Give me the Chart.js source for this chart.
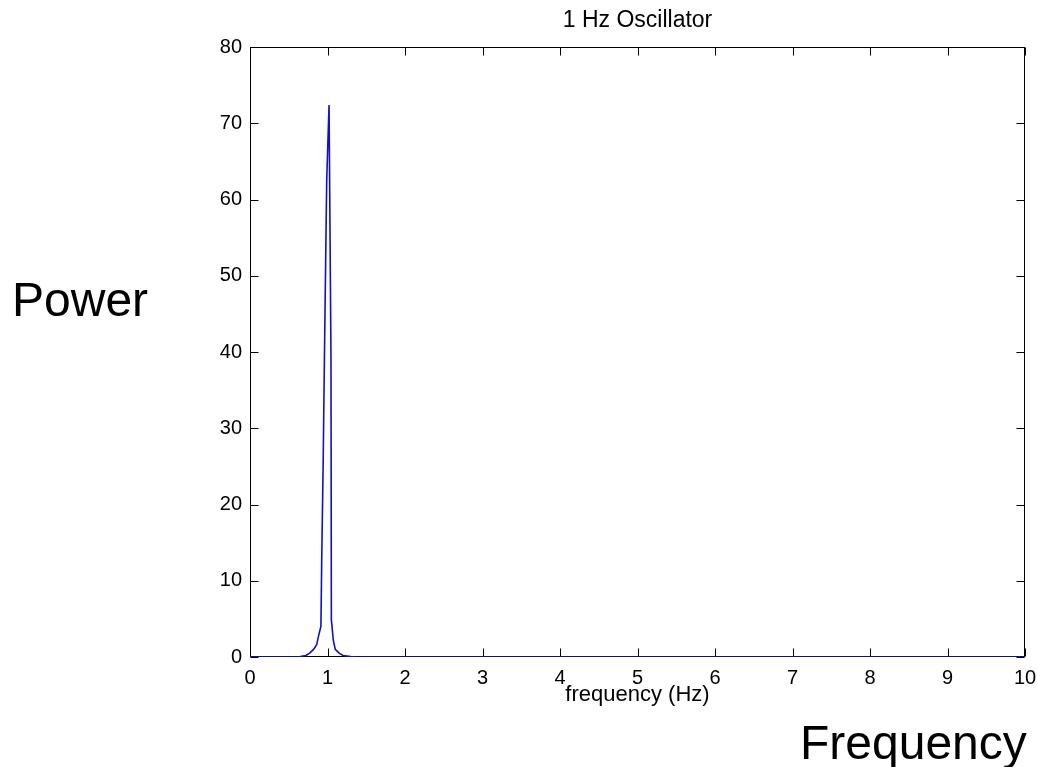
<!DOCTYPE html>
<html><head><meta charset="utf-8">
<script src="https://cdn.jsdelivr.net/npm/chart.js@4/dist/chart.umd.min.js"></script>
<style>
html,body{margin:0;padding:0;background:#fff;}
#wrap{position:relative;width:1037px;height:767px;overflow:hidden;}
canvas{position:absolute;left:0;top:0;}
.lbl{position:absolute;font-family:"Liberation Sans",Arial,sans-serif;font-size:48px;color:#000;line-height:1;white-space:nowrap;}
</style></head><body>
<div id="wrap"><canvas id="c" width="1037" height="767"></canvas>
<div class="lbl" style="left:12px;top:276px">Power</div>
<div class="lbl" style="left:800px;top:719px">Frequency</div>
</div>
<script>
// Data
const chartTitle = "1 Hz Oscillator";
const xAxisTitle = "frequency (Hz)";
const frequency = [0, 0.60, 0.65, 0.72, 0.77, 0.82, 0.86, 0.89, 0.915, 0.925, 0.945, 0.965, 0.99, 1.02, 1.045, 1.05, 1.075, 1.10, 1.15, 1.20, 1.30, 1.40, 10];
const power     = [0, 0,    0.05, 0.2,  0.5,  1.0,  1.6,  3.0,  4.0,   12.3,  26.2,  43.1,  62.6, 72.4, 39.0,  4.9,  2.2,   1.0,  0.5,  0.2,  0.05, 0,    0];
const xTicks = [0,1,2,3,4,5,6,7,8,9,10];
const yTicks = [0,10,20,30,40,50,60,70,80];

const points = frequency.map((f,i)=>({x:f, y:power[i]}));
const FONT = '"Liberation Sans", Arial, sans-serif';

const boxPlugin = {
  id:'box',
  beforeDatasetsDraw(chart){
    const {ctx, chartArea:a, scales:{x,y}} = chart;
    const L = Math.round(a.left)+0.5, R = Math.round(a.right)-0.5, T = Math.round(a.top)+0.5, B = Math.round(a.bottom)-0.5;
    ctx.save();
    ctx.strokeStyle = '#000'; ctx.lineWidth = 1;
    ctx.strokeRect(L, T, R-L, B-T);
    const len = 8;
    ctx.beginPath();
    xTicks.forEach(v=>{
      const px = Math.round(x.getPixelForValue(v))+0.5;
      ctx.moveTo(px,B); ctx.lineTo(px,B-len);
      ctx.moveTo(px,T); ctx.lineTo(px,T+len);
    });
    yTicks.forEach(v=>{
      const py = Math.round(y.getPixelForValue(v))+0.5;
      ctx.moveTo(L,py); ctx.lineTo(L+len,py);
      ctx.moveTo(R,py); ctx.lineTo(R-len,py);
    });
    ctx.stroke();
    // title centred over the plot box
    ctx.fillStyle = '#000';
    ctx.font = '23px ' + FONT;
    ctx.textAlign = 'center';
    ctx.textBaseline = 'middle';
    ctx.fillText(chartTitle, (a.left + a.right)/2, 21);
    ctx.restore();
  }
};

new Chart(document.getElementById('c'), {
  type:'line',
  data:{datasets:[{data:points, borderColor:'#1010c8', borderWidth:1.6, pointRadius:0, tension:0, fill:false}]},
  options:{
    responsive:false, animation:false, devicePixelRatio:1,
    layout:{padding:{left:0,right:12,top:47,bottom:0}},
    plugins:{ legend:{display:false}, tooltip:{enabled:false}, title:{display:false} },
    scales:{
      x:{type:'linear', min:0, max:10,
        afterBuildTicks(s){ s.ticks = xTicks.map(v=>({value:v})); },
        afterFit(s){ s.height = 110; s.paddingLeft = 0; s.paddingRight = 0; },
        grid:{display:false, drawTicks:false}, border:{display:false},
        ticks:{color:'#000', font:{family:FONT,size:20}, padding:9, maxRotation:0},
        title:{display:true, text:xAxisTitle, color:'#000', font:{family:FONT,size:22}, padding:{top:0,bottom:59}}
      },
      y:{type:'linear', min:0, max:80,
        afterBuildTicks(s){ s.ticks = yTicks.map(v=>({value:v})); },
        afterFit(s){ s.width = 250; s.paddingTop = 0; s.paddingBottom = 0; },
        grid:{display:false, drawTicks:false}, border:{display:false},
        ticks:{color:'#000', font:{family:FONT,size:20}, padding:8}
      }
    }
  },
  plugins:[boxPlugin]
});
</script>
</body></html>
